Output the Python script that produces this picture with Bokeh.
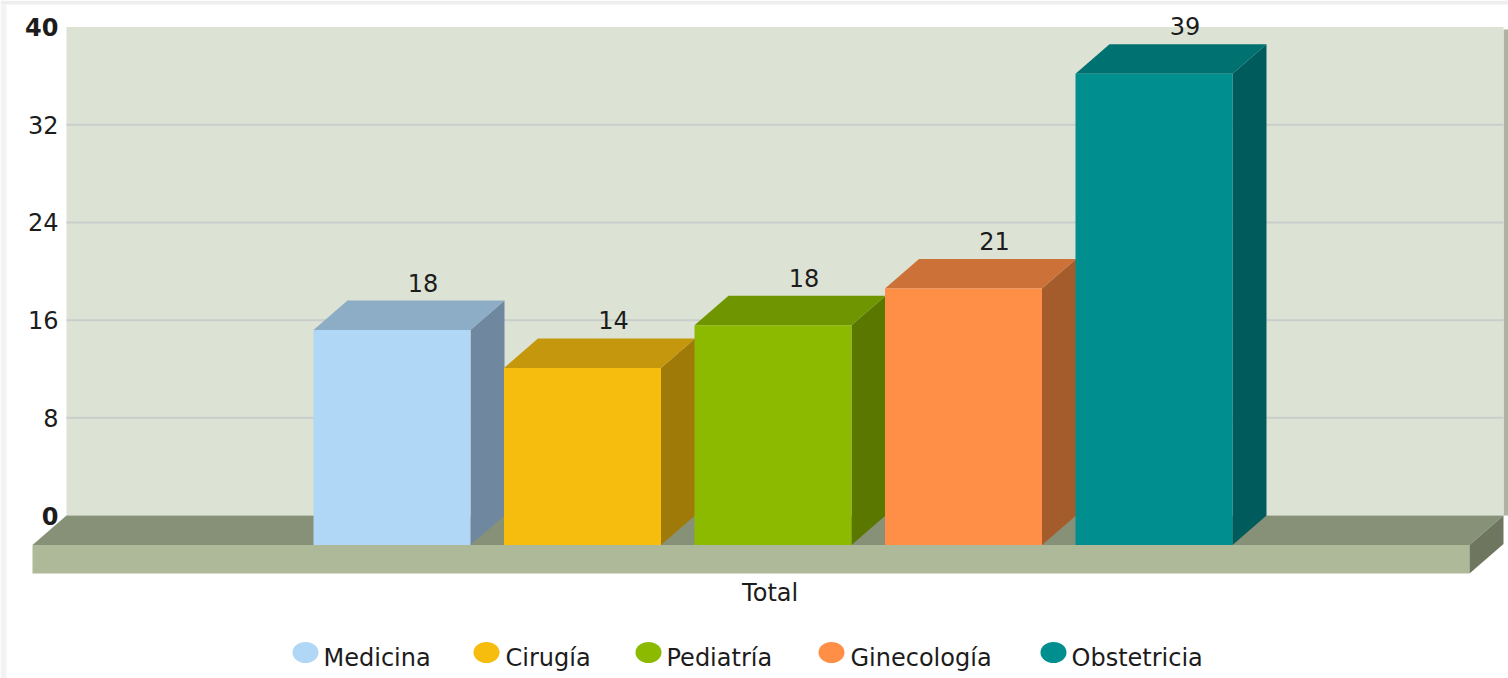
from bokeh.embed import file_html
from bokeh.resources import INLINE
from bokeh.plotting import figure
from bokeh.models import Range1d, LinearAxis, FixedTicker
from bokeh.core.properties import value

categories = ["Medicina", "Cirugía", "Pediatría", "Ginecología", "Obstetricia"]
heights = [17.6, 14.5, 18.0, 21.0, 38.6]
value_labels = ["18", "14", "18", "21", "39"]
front_colors = ["#b1d7f7", "#f6bd0f", "#8bba00", "#ff8e46", "#008e8e"]
top_colors = ["#8dacc6", "#c4970c", "#6f9500", "#cc7138", "#007171"]
side_colors = ["#6f889f", "#a07a08", "#5a7800", "#a55c2d", "#005c5c"]
regular_ticks = [8, 16, 24, 32]
bold_ticks = [0, 40]
category_label = "Total"

FONT = "DejaVu Sans"
TEXT = "#1c1c1c"
FS = "24px"

W, H = 1508, 678
X0, XSTEP = 391.5, 190.5   # picture px of the first bar's centre, and the spacing
Y0, YSTEP = 515.0, 12.21   # picture px of value 0 on the back wall, and px per unit


def dx(px):
    return (px - X0) / XSTEP


def dy(py):
    return (Y0 - py) / YSTEP


p = figure(
    width=W, height=H, output_backend="svg", toolbar_location=None,
    x_range=Range1d(dx(0), dx(W)), y_range=Range1d(dy(H), dy(0)),
    min_border=0, outline_line_color=None, background_fill_color="white",
    border_fill_color="white", x_axis_location=None, y_axis_location=None,
)
p.xgrid.visible = False
p.ygrid.visible = False

BAR_W = 157 / XSTEP
DEPTH_X = 34 / XSTEP
DEPTH_Y = 29.5 / YSTEP
FLOOR_H = 28.5 / YSTEP

# page edge
p.quad(left=dx(0), right=dx(W), bottom=dy(4), top=dy(0), fill_color="#eeeeee", line_color=None)
p.quad(left=dx(0), right=dx(6), bottom=dy(H), top=dy(4), fill_color="#f3f3f3", line_color=None)

# back wall
wall_l, wall_r = dx(66), dx(1503)
p.quad(left=dx(1503), right=dx(1508), bottom=dy(515), top=dy(29), fill_color="#aeb3a4", line_color=None)
p.quad(left=wall_l, right=wall_r, bottom=0, top=40, fill_color="#dde3d4", line_color=None)
p.segment(x0=[wall_l] * len(regular_ticks), x1=[wall_r] * len(regular_ticks),
          y0=regular_ticks, y1=regular_ticks, line_color="#c9cdcb", line_width=2)

# floor
f_l, f_r = dx(32), dx(1469)
p.patch([wall_l, wall_r, f_r, f_l], [0, 0, -DEPTH_Y, -DEPTH_Y], fill_color="#879177", line_color=None)
p.quad(left=f_l, right=f_r, top=-DEPTH_Y, bottom=-DEPTH_Y - FLOOR_H, fill_color="#aeb99a", line_color=None)
p.patch([f_r, wall_r, wall_r, f_r],
        [-DEPTH_Y, 0, -FLOOR_H, -DEPTH_Y - FLOOR_H], fill_color="#6e7660", line_color=None)

# bars
for i, v in enumerate(heights):
    l, r = i - BAR_W / 2, i + BAR_W / 2
    b, t = -DEPTH_Y, v - DEPTH_Y
    p.patch([r, r + DEPTH_X, r + DEPTH_X, r], [b, b + DEPTH_Y, t + DEPTH_Y, t],
            fill_color=side_colors[i], line_color=None)
    p.patch([l, r, r + DEPTH_X, l + DEPTH_X], [t, t, t + DEPTH_Y, t + DEPTH_Y],
            fill_color=top_colors[i], line_color=None)
    p.quad(left=l, right=r, bottom=b, top=t, fill_color=front_colors[i], line_color=None)

# value labels
p.text(x=list(range(len(heights))), y=heights, text=value_labels,
       x_offset=31, y_offset=-9, text_align="center", text_baseline="bottom",
       text_font=value(FONT), text_font_size=FS, text_color=TEXT)

# y axes, inside the frame
for ticks, style in ((regular_ticks, "normal"), (bold_ticks, "bold")):
    ax = LinearAxis(ticker=FixedTicker(ticks=ticks), fixed_location=dx(66))
    ax.axis_line_color = None
    ax.major_tick_line_color = None
    ax.minor_tick_line_color = None
    ax.major_label_standoff = 2
    ax.major_label_text_font = FONT
    ax.major_label_text_font_size = FS
    ax.major_label_text_font_style = style
    ax.major_label_text_color = TEXT
    p.add_layout(ax, "left")

# category label
xax = LinearAxis(ticker=FixedTicker(ticks=[1.985]), major_label_overrides={1.985: category_label},
                 fixed_location=dy(567))
xax.axis_line_color = None
xax.major_tick_line_color = None
xax.minor_tick_line_color = None
xax.major_label_standoff = 5
xax.major_label_text_font = FONT
xax.major_label_text_font_size = FS
xax.major_label_text_color = TEXT
p.add_layout(xax, "below")

# legend
marker_px = [305, 486, 648, 831, 1053]
label_px = [323, 505, 666, 850, 1071]
p.ellipse(x=[dx(m) for m in marker_px], y=dy(652), width=26, height=21,
          width_units="screen", height_units="screen",
          fill_color=front_colors, line_color=None)
p.text(x=[dx(m) for m in label_px], y=dy(657), text=categories,
       text_align="left", text_baseline="middle",
       text_font=value(FONT), text_font_size=FS, text_color=TEXT)

open("out.html", "w").write(file_html(p, INLINE))
